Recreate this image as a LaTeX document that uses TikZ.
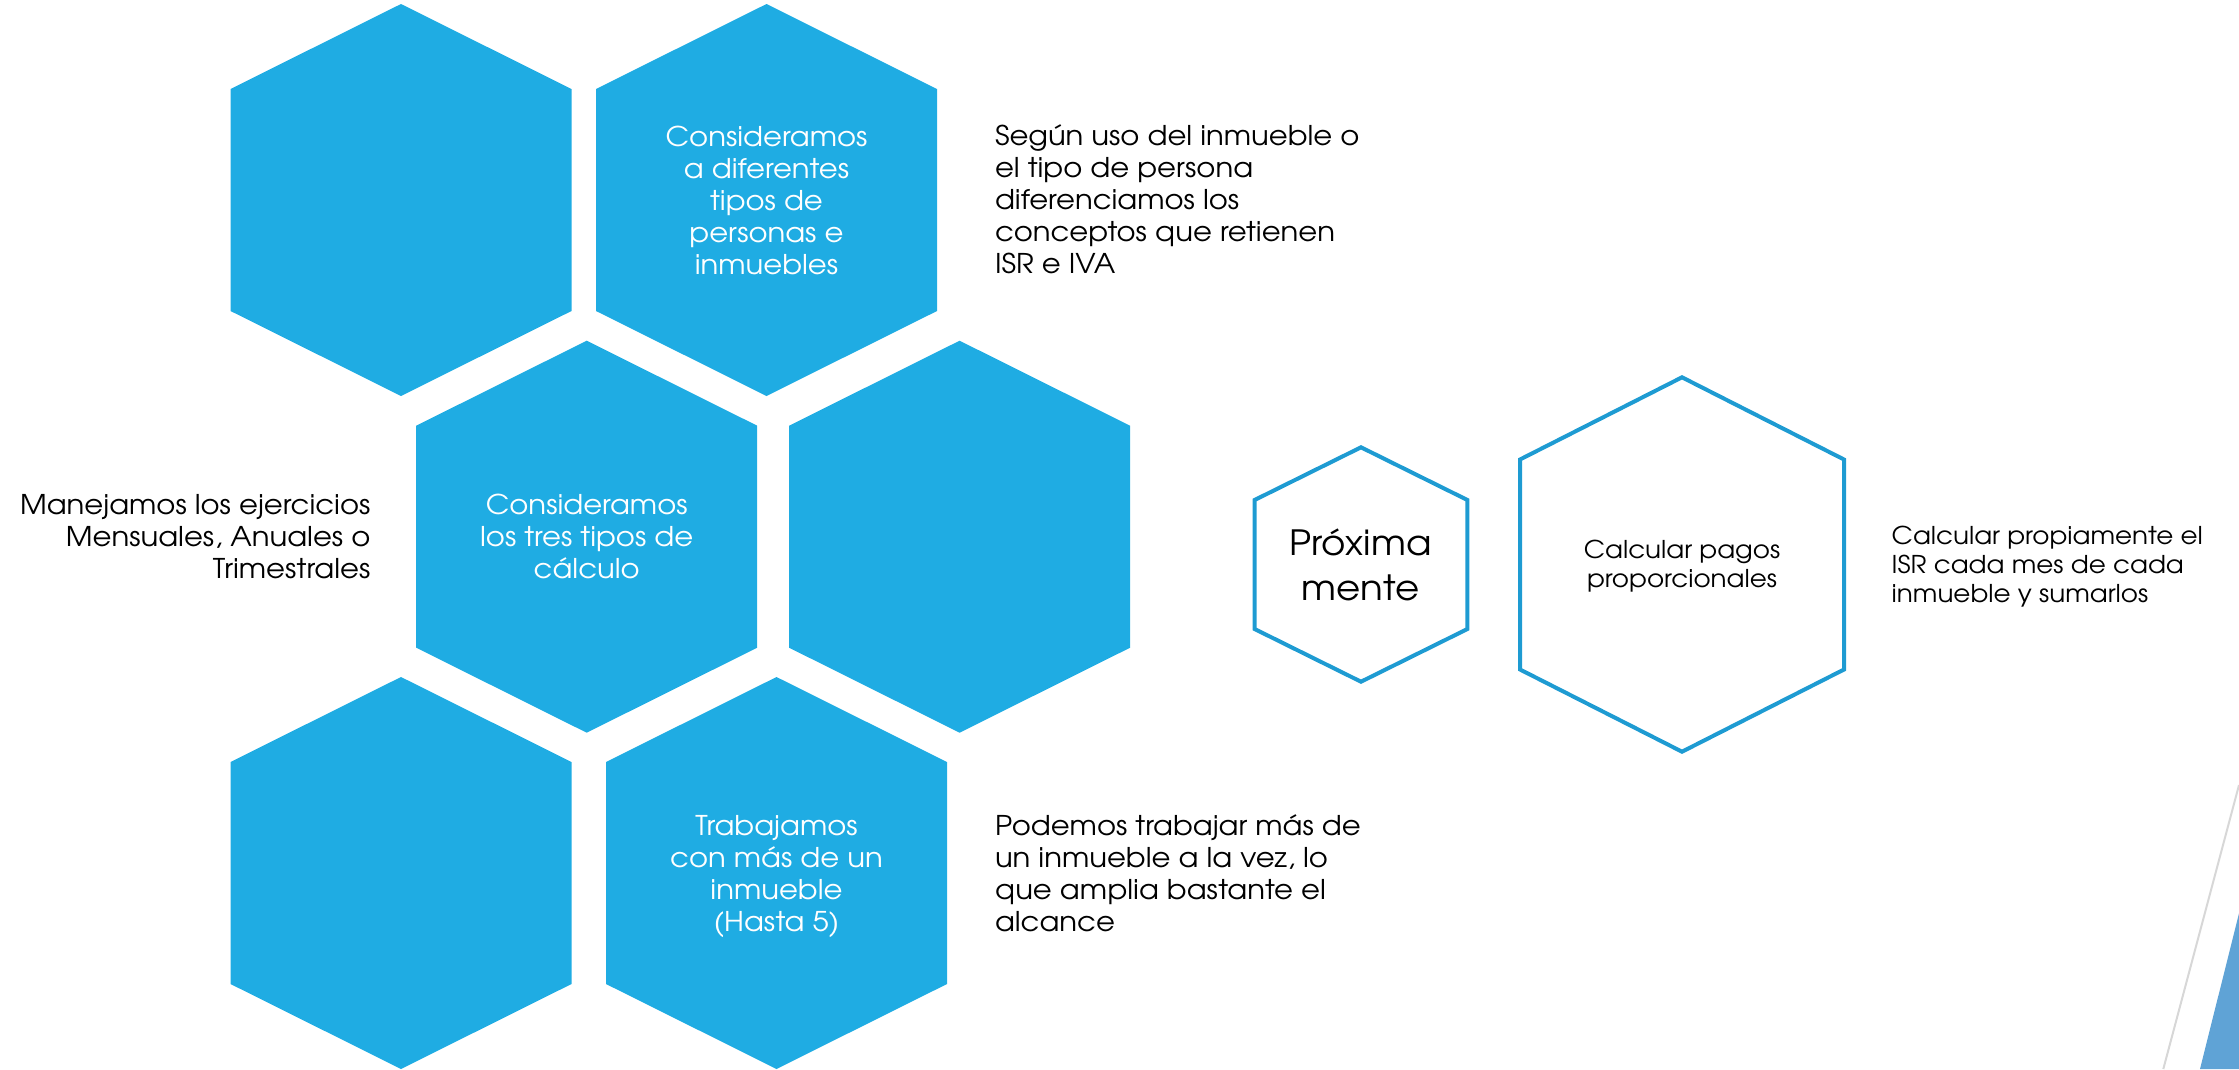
\documentclass[tikz,border=0pt]{standalone}
\usepackage{fontspec}
\setmainfont{texgyreadventor}[Extension=.otf, UprightFont=*-regular, BoldFont=*-bold, FakeStretch=1.07]
\definecolor{hexblue}{RGB}{31,172,227}
\definecolor{lineblue}{RGB}{30,155,210}
\definecolor{decoblue}{RGB}{95,163,214}
\definecolor{decogray}{RGB}{215,215,215}
\newcommand\hexdraw[6]{% cx cy halfwidth halfheight shoulder-offset style
  \path[#6] (#1,#2-#4) -- (#1+#3,#2-#5) -- (#1+#3,#2+#5) -- (#1,#2+#4)
    -- (#1-#3,#2+#5) -- (#1-#3,#2-#5) -- cycle;}
\tikzset{
  hexfill/.style={fill=hexblue},
  hexline/.style={draw=lineblue, line width=4pt, line join=miter},
  txt/.style={inner sep=0pt, outer sep=0pt},
  whitetxt/.style={txt, text=white, align=center, font=\fontsize{27.2}{32}\selectfont},
  blacktxt/.style={txt, text=black, font=\fontsize{27.2}{32}\selectfont},
  smalltxt/.style={txt, text=black, font=\fontsize{24.5}{29}\selectfont},
}
\begin{document}
\begin{tikzpicture}[x=1pt,y=-1pt]
\useasboundingbox (0,0) rectangle (2239,1069);
% filled hexagons
\hexdraw{401}{200}{170.5}{196}{111}{hexfill}
\hexdraw{766.5}{200}{170.5}{196}{111}{hexfill}
\hexdraw{586.7}{536.7}{170.5}{196}{111}{hexfill}
\hexdraw{959.6}{536.7}{170.5}{196}{111}{hexfill}
\hexdraw{401}{873}{170.5}{196}{111}{hexfill}
\hexdraw{776.5}{873}{170.5}{196}{111}{hexfill}
% outlined hexagons
\hexdraw{1361}{564.5}{106.4}{117.2}{64.5}{hexline}
\hexdraw{1682}{564.5}{162}{187.2}{105}{hexline}
% texts inside hexagons
\node[whitetxt] (t2) at (766.5,203.8) {\strut Consideramos\\a diferentes\\tipos de\\personas e\\inmuebles\strut};
\node[whitetxt] (t3) at (586.7,539.6) {\strut Consideramos\\los tres tipos de\\c\'alculo\strut};
\node[whitetxt] (t6) at (776.5,877.3) {\strut Trabajamos\\con m\'as de un\\inmueble\\(Hasta 5)\strut};
\node[txt, align=center, font=\fontsize{34.8}{45.7}\selectfont] (t7) at (1360.5,568.7) {\strut Pr\'oxima\\mente\strut};
\node[smalltxt, align=center] (t8) at (1682,566.8) {\strut Calcular pagos\\proporcionales\strut};
% side texts
\node[blacktxt, align=left, anchor=west] (s2) at (995,202.9) {\strut Seg\'un uso del inmueble o\\el tipo de persona\\diferenciamos los\\conceptos que retienen\\ISR e IVA\strut};
\node[blacktxt, align=right, anchor=east] (s3) at (370.4,539.6) {\strut Manejamos los ejercicios\\Mensuales, Anuales o\\Trimestrales\strut};
\node[blacktxt, align=left, anchor=west] (s6) at (995,877.3) {\strut Podemos trabajar m\'as de\\un inmueble a la vez, lo\\que amplia bastante el\\alcance\strut};
\node[smalltxt, align=left, anchor=west] (s8) at (1891.7,567.6) {\strut Calcular propiamente el\\ISR cada mes de cada\\inmueble y sumarlos\strut};
% corner decoration
\draw[decogray, line width=2pt] (2239,785) -- (2163.3,1069);
\fill[decoblue] (2239,913.3) -- (2200,1069) -- (2239,1069) -- cycle;
\end{tikzpicture}
\end{document}
